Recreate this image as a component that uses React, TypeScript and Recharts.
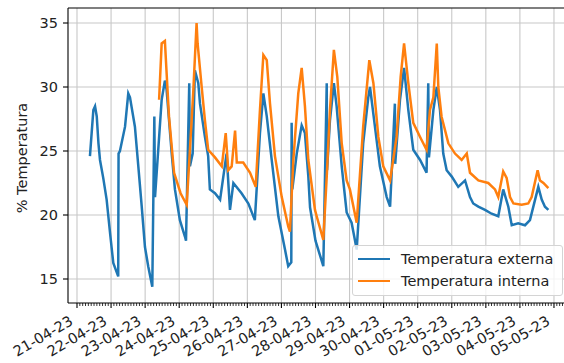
import React from "react";
import { LineChart, Line, XAxis, YAxis, CartesianGrid, ReferenceLine } from "recharts";

// time in days since 21-04-23 00:00, temperature in °C
const externa: [number, number][] = [
  [0.38, 24.6], [0.43, 26.4], [0.48, 28.2], [0.53, 28.5], [0.58, 27.7], [0.63, 25.6], [0.675, 24.3], [0.77, 22.9],
  [0.87, 21.2], [0.97, 18.6], [1.065, 16.25], [1.21, 15.2], [1.22, 24.8], [1.26, 25.0], [1.41, 26.9],
  [1.505, 29.5], [1.555, 29.2], [1.7, 26.9], [1.8, 23.8], [1.9, 20.65], [1.995, 17.5], [2.09, 16.0],
  [2.21, 14.4], [2.27, 27.7], [2.29, 21.4], [2.385, 25.1], [2.485, 29.0], [2.58, 30.5], [2.63, 29.8],
  [2.78, 24.8], [2.875, 22.0], [3.02, 19.6], [3.17, 18.3], [3.2, 18.0], [3.295, 30.3], [3.315, 23.8],
  [3.395, 24.8], [3.46, 31.3], [3.56, 30.3], [3.61, 28.7], [3.755, 26.1], [3.85, 24.6], [3.9, 22.0],
  [4.05, 21.7], [4.2, 21.2], [4.39, 24.8], [4.49, 20.4], [4.59, 22.5], [4.83, 21.7], [5.03, 20.9],
  [5.22, 19.6], [5.37, 26.4], [5.47, 29.5], [5.57, 27.7], [5.715, 24.3], [5.91, 19.9], [6.105, 17.3],
  [6.2, 16.0], [6.29, 16.3], [6.3, 27.2], [6.32, 22.0], [6.45, 24.8], [6.595, 27.0], [6.69, 26.4],
  [6.79, 23.0], [6.84, 20.6], [7.0, 18.0], [7.23, 16.0], [7.33, 30.3], [7.34, 23.5], [7.425, 27.4],
  [7.54, 30.3], [7.62, 28.5], [7.77, 23.8], [7.915, 20.2], [8.06, 19.4], [8.21, 17.3], [8.4, 25.6],
  [8.55, 29.2], [8.6, 30.0], [8.745, 26.9], [8.89, 23.8], [9.09, 21.4], [9.19, 20.65], [9.33, 28.7],
  [9.34, 24.0], [9.48, 29.0], [9.6, 31.5], [9.725, 28.2], [9.87, 25.1], [10.07, 24.3], [10.26, 23.3],
  [10.31, 30.3], [10.33, 24.5], [10.46, 28.2], [10.56, 30.0], [10.655, 28.2], [10.75, 24.8],
  [10.85, 23.5], [11.0, 23.0], [11.19, 22.2], [11.39, 22.7], [11.535, 21.4], [11.63, 20.9],
  [11.78, 20.65], [11.975, 20.4], [12.17, 20.1], [12.365, 19.9], [12.51, 22.0], [12.66, 20.65],
  [12.76, 19.2], [12.95, 19.35], [13.15, 19.2], [13.295, 19.6], [13.54, 22.2], [13.64, 21.2],
  [13.735, 20.65], [13.835, 20.4],
];

const interna: [number, number][] = [
  [2.41, 29.0], [2.485, 33.4], [2.58, 33.6], [2.62, 31.6], [2.7, 27.7], [2.85, 23.3], [3.04, 21.7],
  [3.22, 20.8], [3.315, 25.1], [3.41, 29.5], [3.51, 35.0], [3.54, 33.4], [3.66, 30.0], [3.755, 27.4],
  [3.85, 25.1], [4.05, 24.5], [4.25, 23.8], [4.365, 26.4], [4.44, 23.5], [4.54, 23.8], [4.64, 26.6],
  [4.69, 24.1], [4.88, 24.1], [5.08, 23.3], [5.245, 22.2], [5.37, 28.2], [5.47, 32.5], [5.57, 32.1],
  [5.665, 28.7], [5.81, 24.6], [6.01, 21.4], [6.2, 19.1], [6.25, 18.7], [6.35, 24.3], [6.495, 29.5],
  [6.595, 31.5], [6.69, 28.5], [6.79, 24.3], [6.985, 20.4], [7.035, 19.9], [7.23, 18.05], [7.33, 23.0],
  [7.425, 28.2], [7.54, 32.9], [7.64, 30.8], [7.77, 25.6], [7.915, 22.7], [8.01, 22.0], [8.21, 19.4],
  [8.4, 26.9], [8.58, 32.1], [8.7, 30.3], [8.845, 26.1], [8.99, 23.8], [9.19, 22.7], [9.38, 26.1],
  [9.5, 30.8], [9.6, 33.4], [9.725, 30.3], [9.87, 27.2], [10.07, 26.1], [10.26, 25.1], [10.36, 28.2],
  [10.46, 29.2], [10.56, 33.4], [10.605, 30.0], [10.7, 27.7], [10.9, 25.6], [11.095, 24.8],
  [11.29, 24.3], [11.44, 24.8], [11.535, 23.3], [11.78, 22.7], [12.07, 22.5], [12.27, 22.0],
  [12.365, 21.4], [12.51, 23.4], [12.61, 22.9], [12.71, 21.4], [12.81, 20.9], [13.05, 20.8],
  [13.245, 20.9], [13.345, 21.4], [13.52, 23.5], [13.59, 22.7], [13.69, 22.5], [13.835, 22.1],
];

const DAY_LABELS = [
  "21-04-23", "22-04-23", "23-04-23", "24-04-23", "25-04-23", "26-04-23", "27-04-23", "28-04-23",
  "29-04-23", "30-04-23", "01-05-23", "02-05-23", "03-05-23", "04-05-23", "05-05-23",
];
const Y_TICKS = [15, 20, 25, 30, 35];

const BLUE = "#1f77b4";
const ORANGE = "#ff7f0e";
const FONT = "'DejaVu Sans', sans-serif";

const X_DOMAIN: [number, number] = [-0.264, 14.529];
const Y_DOMAIN: [number, number] = [13.125, 36.172];

const externaData = externa.map(([day, temp]) => ({ day, temp }));
const internaData = interna.map(([day, temp]) => ({ day, temp }));

// major ticks each day, minor ticks every 2 hours
const xTicks: number[] = [];
for (let i = 0; i <= 14 * 12 + 6; i++) xTicks.push(i / 12);
const dayTicks = DAY_LABELS.map((_, i) => i);

const DayTick = (props: any) => {
  const { x, y, payload } = props;
  const v = payload.value as number;
  const idx = Math.round(v);
  const major = Math.abs(v - idx) < 1e-6;
  const tx = x - 3;
  const ty = y + 21;
  return (
    <g>
      <line x1={x} x2={x} y1={y} y2={y + (major ? 5 : 3)} stroke="#000" strokeWidth={major ? 1.1 : 0.8} />
      {major && DAY_LABELS[idx] && (
        <text
          x={tx}
          y={ty}
          transform={`rotate(-30 ${tx} ${ty})`}
          textAnchor="end"
          fontSize={14.5}
          fontFamily={FONT}
          fill="#222"
        >
          {DAY_LABELS[idx]}
        </text>
      )}
    </g>
  );
};

const YLabel = () => (
  <text
    x={22}
    y={158}
    transform="rotate(-90 22 158)"
    textAnchor="middle"
    dominantBaseline="central"
    fontSize={14.5}
    fontFamily={FONT}
    fill="#222"
  >
    % Temperatura
  </text>
);

export default function App() {
  return (
    <div
      style={{
        position: "absolute",
        left: 0,
        top: 0,
        width: 564,
        height: 363,
        overflow: "hidden",
        background: "#fff",
        fontFamily: FONT,
      }}
    >
      <LineChart width={572} height={363} margin={{ top: 8, right: 0, left: 0, bottom: 0 }}>
        <CartesianGrid stroke="#c8c8c8" strokeWidth={1.1} verticalValues={dayTicks} horizontalValues={Y_TICKS} />
        <XAxis
          dataKey="day"
          type="number"
          domain={X_DOMAIN}
          allowDataOverflow
          ticks={xTicks}
          interval={0}
          height={60}
          tickSize={0}
          tickMargin={0}
          tickLine={false}
          axisLine={{ stroke: "#000", strokeWidth: 1.1 }}
          tick={<DayTick />}
        />
        <YAxis
          type="number"
          domain={Y_DOMAIN}
          allowDataOverflow
          ticks={Y_TICKS}
          interval={0}
          width={68}
          tickSize={5}
          tickMargin={5}
          tickLine={{ stroke: "#000", strokeWidth: 1.1 }}
          axisLine={{ stroke: "#000", strokeWidth: 1.1 }}
          tick={{ fontSize: 14.5, fontFamily: FONT, fill: "#222" }}
          label={<YLabel />}
        />
        <ReferenceLine y={Y_DOMAIN[1]} stroke="#000" strokeWidth={1.1} ifOverflow="visible" />
        <Line
          data={externaData}
          dataKey="temp"
          type="linear"
          stroke={BLUE}
          strokeWidth={2.5}
          dot={false}
          isAnimationActive={false}
          name="Temperatura externa"
        />
        <Line
          data={internaData}
          dataKey="temp"
          type="linear"
          stroke={ORANGE}
          strokeWidth={2.5}
          dot={false}
          isAnimationActive={false}
          name="Temperatura interna"
        />
      </LineChart>
      <div
        style={{
          position: "absolute",
          left: 352,
          top: 245,
          width: 209,
          height: 49,
          border: "1px solid #d4d4d4",
          borderRadius: 3,
          background: "rgba(255,255,255,0.8)",
          fontSize: 14.5,
          color: "#222",
        }}
      >
        {[
          { label: "Temperatura externa", color: BLUE },
          { label: "Temperatura interna", color: ORANGE },
        ].map((item, i) => (
          <div
            key={item.label}
            style={{ position: "absolute", left: 0, top: 4 + i * 22, height: 18, display: "flex", alignItems: "center" }}
          >
            <div style={{ marginLeft: 5, width: 32, height: 2.4, background: item.color }} />
            <span style={{ marginLeft: 11, whiteSpace: "nowrap" }}>{item.label}</span>
          </div>
        ))}
      </div>
    </div>
  );
}
